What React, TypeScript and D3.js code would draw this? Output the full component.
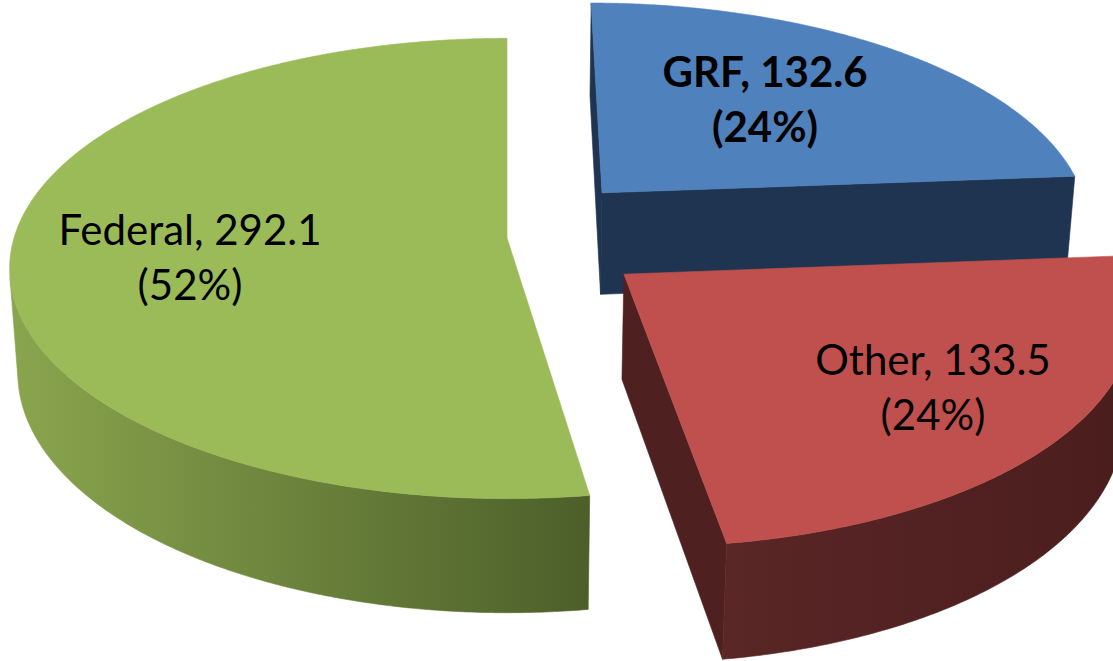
import React, { useEffect, useRef } from "react";
import * as d3 from "d3";

// slices in Excel order, clockwise from 12 o'clock
const categories = ["GRF", "Other", "Federal"];
const values = [132.6, 133.5, 292.1];
const boldLabel = [true, false, false];

const topColors = ["#4F81BD", "#C0504D", "#9BBB59"];
const cutColors = ["#1F3450", "#4F2020", "#4E6129"];
const sideColors = [
  ["#1F3450", "#1F3450"],
  ["#5A2626", "#4A1D1D"],
  ["#8AA54E", "#4C5F29"],
];
// explode distance (in radii) and direction (deg, clockwise from 12)
const explode = [0.285, 0.28, 0];
const explodeAngle = [44, 124, 0];
const labelPos = [
  [765, 87],
  [933, 375],
  [190, 245],
];

const width = 1113;
const height = 661;
const cx = 507;
const cy = 238;
const tilt = (27.3 * Math.PI) / 180;
const camDist = 6.71;
const focal = 3308;
const thick = 0.24;

// perspective camera looking down at the pie from the front
function project(x: number, y: number, z: number): [number, number] {
  const depth = camDist + y * Math.cos(tilt) - z * Math.sin(tilt);
  return [
    cx + (focal * x) / depth,
    cy - (focal * (y * Math.sin(tilt) + z * Math.cos(tilt))) / depth,
  ];
}

export default function App() {
  const ref = useRef<SVGSVGElement>(null);

  useEffect(() => {
    const svg = d3.select(ref.current);
    svg.selectAll("*").remove();

    const arcs = d3
      .pie<number>()
      .sort(null)
      .value((d) => d)(values);
    const total = d3.sum(values);
    const pct = d3.format(".0%");
    const num = d3.format(".1f");
    const line = d3.line().curve(d3.curveLinearClosed);
    const defs = svg.append("defs");
    const camY = -camDist * Math.cos(tilt);

    const slices = arcs.map((a, i) => {
      const ea = (explodeAngle[i] * Math.PI) / 180;
      return {
        i,
        a0: a.startAngle,
        a1: a.endAngle,
        ox: explode[i] * Math.sin(ea),
        oy: explode[i] * Math.cos(ea),
      };
    });

    // far slices first
    slices
      .slice()
      .sort((p, q) => q.oy - p.oy)
      .forEach((s) => {
        const { i, a0, a1, ox, oy } = s;
        const g = svg.append("g");
        const pt = (a: number, z: number) =>
          project(ox + Math.sin(a), oy + Math.cos(a), z);
        const apexTop = project(ox, oy, 0);
        const apexBot = project(ox, oy, -thick);

        const step = Math.PI / 360;
        const n = Math.max(2, Math.ceil((a1 - a0) / step));
        const angles = d3.range(n + 1).map((k) => a0 + ((a1 - a0) * k) / n);

        // cut faces
        const startN = [-Math.cos(a0), Math.sin(a0)];
        const endN = [Math.cos(a1), -Math.sin(a1)];
        [
          [a0, startN],
          [a1, endN],
        ].forEach(([a, nv]: any) => {
          const vis = -ox * nv[0] + (camY - oy) * nv[1];
          if (vis > 1e-6) {
            g.append("path")
              .attr("d", line([apexTop, pt(a, 0), pt(a, -thick), apexBot]))
              .attr("fill", cutColors[i])
              .attr("stroke", cutColors[i])
              .attr("stroke-width", 0.6);
          }
        });

        // outer wall, visible runs only
        const visible = angles.map(
          (a) =>
            -ox * Math.sin(a) - oy * Math.cos(a) - 1 - camDist * Math.cos(tilt) * Math.cos(a) > 0
        );
        const runs: number[][] = [];
        let cur: number[] = [];
        angles.forEach((a, k) => {
          if (visible[k]) cur.push(a);
          else if (cur.length) {
            runs.push(cur);
            cur = [];
          }
        });
        if (cur.length) runs.push(cur);

        runs.forEach((run, r) => {
          if (run.length < 2) return;
          const topPts = run.map((a) => pt(a, 0));
          const botPts = run.map((a) => pt(a, -thick)).reverse();
          const poly = topPts.concat(botPts);
          const xs = poly.map((p) => p[0]);
          const gid = `side-${i}-${r}`;
          const grad = defs
            .append("linearGradient")
            .attr("id", gid)
            .attr("gradientUnits", "userSpaceOnUse")
            .attr("x1", d3.min(xs)!)
            .attr("x2", d3.max(xs)!)
            .attr("y1", 0)
            .attr("y2", 0);
          grad.append("stop").attr("offset", 0).attr("stop-color", sideColors[i][0]);
          grad.append("stop").attr("offset", 1).attr("stop-color", sideColors[i][1]);
          g.append("path")
            .attr("d", line(poly))
            .attr("fill", `url(#${gid})`)
            .attr("stroke", `url(#${gid})`)
            .attr("stroke-width", 0.6);
        });

        // top face
        const top = [apexTop].concat(angles.map((a) => pt(a, 0)));
        g.append("path")
          .attr("d", line(top))
          .attr("fill", topColors[i])
          .attr("stroke", topColors[i])
          .attr("stroke-width", 0.6);
      });

    // data labels
    const labels = svg
      .append("g")
      .attr("font-family", "Lato, 'Open Sans', sans-serif")
      .attr("font-size", 42)
      .attr("fill", "#000")
      .attr("text-anchor", "middle");

    arcs.forEach((a, i) => {
      const [lx, ly] = labelPos[i];
      const t = labels
        .append("text")
        .attr("font-weight", boldLabel[i] ? "bold" : "normal");
      t.append("tspan")
        .attr("x", lx)
        .attr("y", ly)
        .text(`${categories[i]}, ${num(values[i])}`);
      t.append("tspan")
        .attr("x", lx)
        .attr("y", ly + 55)
        .text(`(${pct(values[i] / total)})`);
    });
  }, []);

  return (
    <svg
      ref={ref}
      width={width}
      height={height}
      style={{ position: "absolute", left: 0, top: 0, background: "#fff" }}
    />
  );
}
